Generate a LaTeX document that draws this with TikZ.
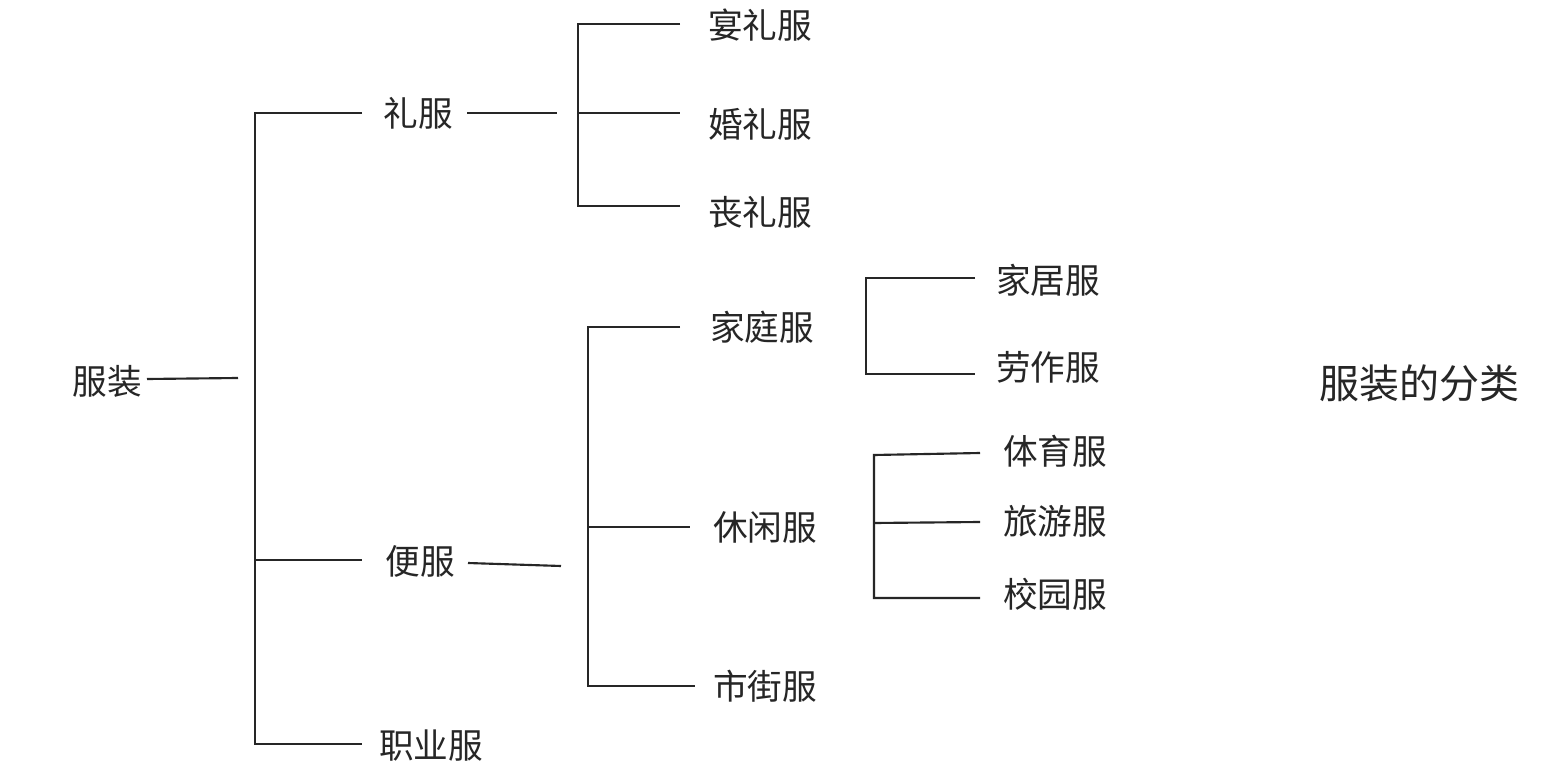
\documentclass[tikz,border=0pt]{standalone}
\usepackage{fontspec}
\newfontfamily\cjk{Noto Sans CJK SC}
\begin{document}
\begin{tikzpicture}[x=0.75pt,y=-0.75pt,
  lbl/.style={font=\cjk\fontsize{26}{30}\selectfont, inner sep=4pt, text=black!85},
  ln/.style={line width=1.6pt, black!85}]
\useasboundingbox[fill=white] (0,0) rectangle (1542,777);
% nodes
\node[lbl] (root) at (107,381) {服装};
\node[lbl] (lf) at (418,113) {礼服};
\node[lbl] (bf) at (420,561) {便服};
\node[lbl] (zy) at (431,746) {职业服};
\node[lbl] (yl) at (760,25) {宴礼服};
\node[lbl] (hl) at (760,124) {婚礼服};
\node[lbl] (sl) at (760,212) {丧礼服};
\node[lbl] (jt) at (762,327) {家庭服};
\node[lbl] (xx) at (765,527) {休闲服};
\node[lbl] (sj) at (765,686) {市街服};
\node[lbl] (jj) at (1048,280) {家居服};
\node[lbl] (lz) at (1048,367) {劳作服};
\node[lbl] (ty) at (1055,451) {体育服};
\node[lbl] (ly) at (1055,521) {旅游服};
\node[lbl] (xy) at (1055,594) {校园服};
\node[lbl, font=\cjk\fontsize{30}{34}\selectfont] (title) at (1419,383) {服装的分类};
% coordinates
\coordinate (rootE) at (147,379); \coordinate (r0) at (238,378);
\coordinate (a1) at (255,113); \coordinate (a2) at (255,560); \coordinate (a3) at (255,744);
\coordinate (lfW) at (362,113); \coordinate (bfW) at (362,560); \coordinate (zyW) at (362,744);
\coordinate (lfE) at (467,113); \coordinate (lfR) at (557,113);
\coordinate (b1) at (578,24); \coordinate (b2) at (578,113); \coordinate (b3) at (578,206);
\coordinate (ylW) at (680,24); \coordinate (hlW) at (680,113); \coordinate (slW) at (680,206);
\coordinate (bfE) at (468,563); \coordinate (bfR) at (561,566);
\coordinate (c1) at (588,327); \coordinate (c2) at (588,527); \coordinate (c3) at (588,686);
\coordinate (jtW) at (680,327); \coordinate (xxW) at (690,527); \coordinate (sjW) at (695,686);
\coordinate (d1) at (866,278); \coordinate (d2) at (866,374);
\coordinate (jjW) at (975,278); \coordinate (lzW) at (975,374);
\coordinate (e1) at (874,455); \coordinate (e2) at (874,523); \coordinate (e3) at (874,598);
\coordinate (tyW) at (980,453); \coordinate (lyW) at (980,522); \coordinate (xyW) at (980,598);
% connectors
\draw[ln] (rootE) -- (r0);
\draw[ln] (lfW) -- (a1) -- (a3) -- (zyW);
\draw[ln] (a2) -- (bfW);
\draw[ln] (lfE) -- (lfR);
\draw[ln] (ylW) -- (b1) -- (b3) -- (slW);
\draw[ln] (b2) -- (hlW);
\draw[ln] (bfE) -- (bfR);
\draw[ln] (jtW) -- (c1) -- (c3) -- (sjW);
\draw[ln] (c2) -- (xxW);
\draw[ln] (jjW) -- (d1) -- (d2) -- (lzW);
\draw[ln] (tyW) -- (e1) -- (e3) -- (xyW);
\draw[ln] (e2) -- (lyW);
\end{tikzpicture}
\end{document}
